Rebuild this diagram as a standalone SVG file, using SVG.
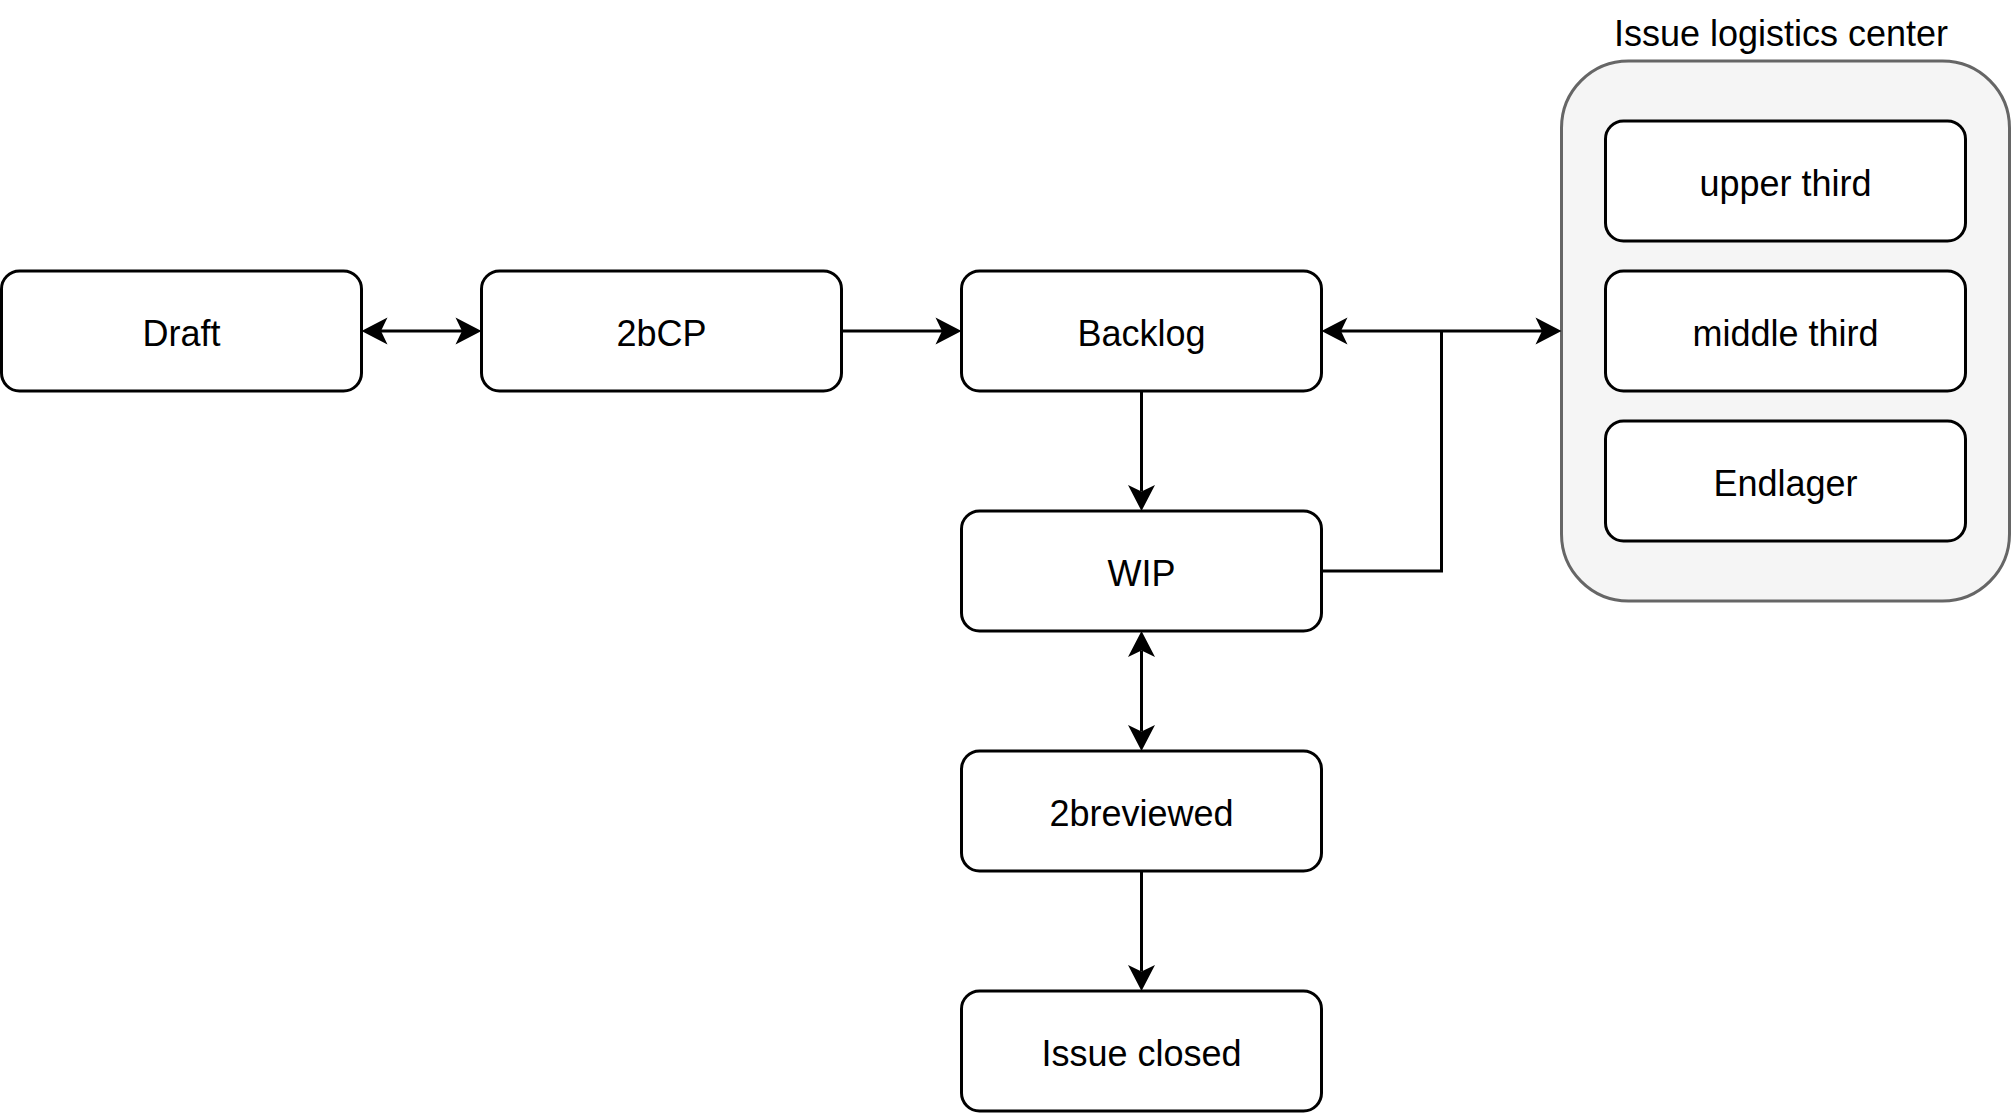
<svg xmlns="http://www.w3.org/2000/svg" width="2013" height="1113" viewBox="0 0 2013 1113">
<style>
.box{fill:#ffffff;stroke:#000000;stroke-width:3}
.cont{fill:#f5f5f5;stroke:#666666;stroke-width:3}
.lbl{font-family:"Liberation Sans",Arial,sans-serif;font-size:36px;fill:#000000;text-anchor:middle}
.edge{fill:none;stroke:#000000;stroke-width:3}
</style>
<defs>
<marker id="arr" viewBox="-8 -15 30 30" refX="0" refY="0" markerWidth="30" markerHeight="30" markerUnits="userSpaceOnUse" orient="auto-start-reverse" overflow="visible">
<path d="M19.5,0 L-6.5,-13.5 L0,0 L-6.5,13.5 Z" fill="#000000"/>
</marker>
</defs>
<rect width="2013" height="1113" fill="#ffffff"/>
<g id="container-issue-logistics-center">
<rect class="cont" x="1561.5" y="61" width="448" height="540" rx="67" ry="67"/>
<text class="lbl" x="1781" y="45.5">Issue logistics center</text>
</g>
<g id="node-upper-third">
<rect class="box" x="1605.5" y="121" width="360" height="120" rx="18" ry="18"/>
<text class="lbl" x="1785.5" y="195.5">upper third</text>
</g>
<g id="node-middle-third">
<rect class="box" x="1605.5" y="271" width="360" height="120" rx="18" ry="18"/>
<text class="lbl" x="1785.5" y="345.5">middle third</text>
</g>
<g id="node-endlager">
<rect class="box" x="1605.5" y="421" width="360" height="120" rx="18" ry="18"/>
<text class="lbl" x="1785.5" y="495.5">Endlager</text>
</g>
<g id="node-draft">
<rect class="box" x="1.5" y="271" width="360" height="120" rx="18" ry="18"/>
<text class="lbl" x="181.5" y="345.5">Draft</text>
</g>
<g id="node-2bcp">
<rect class="box" x="481.5" y="271" width="360" height="120" rx="18" ry="18"/>
<text class="lbl" x="661.5" y="345.5">2bCP</text>
</g>
<g id="node-backlog">
<rect class="box" x="961.5" y="271" width="360" height="120" rx="18" ry="18"/>
<text class="lbl" x="1141.5" y="345.5">Backlog</text>
</g>
<g id="node-wip">
<rect class="box" x="961.5" y="511" width="360" height="120" rx="18" ry="18"/>
<text class="lbl" x="1141.5" y="585.5">WIP</text>
</g>
<g id="node-2breviewed">
<rect class="box" x="961.5" y="751" width="360" height="120" rx="18" ry="18"/>
<text class="lbl" x="1141.5" y="825.5">2breviewed</text>
</g>
<g id="node-issue-closed">
<rect class="box" x="961.5" y="991" width="360" height="120" rx="18" ry="18"/>
<text class="lbl" x="1141.5" y="1065.5">Issue closed</text>
</g>
<g id="connectors">
<path class="edge" d="M381,331 L462,331" marker-start="url(#arr)" marker-end="url(#arr)"/>
<path class="edge" d="M841.5,331 L942,331" marker-end="url(#arr)"/>
<path class="edge" d="M1341,331 L1542,331" marker-start="url(#arr)" marker-end="url(#arr)"/>
<path class="edge" d="M1321.5,571 L1441.5,571 L1441.5,331"/>
<path class="edge" d="M1141.5,391 L1141.5,491.5" marker-end="url(#arr)"/>
<path class="edge" d="M1141.5,650.5 L1141.5,731.5" marker-start="url(#arr)" marker-end="url(#arr)"/>
<path class="edge" d="M1141.5,871 L1141.5,971.5" marker-end="url(#arr)"/>
</g>
</svg>
